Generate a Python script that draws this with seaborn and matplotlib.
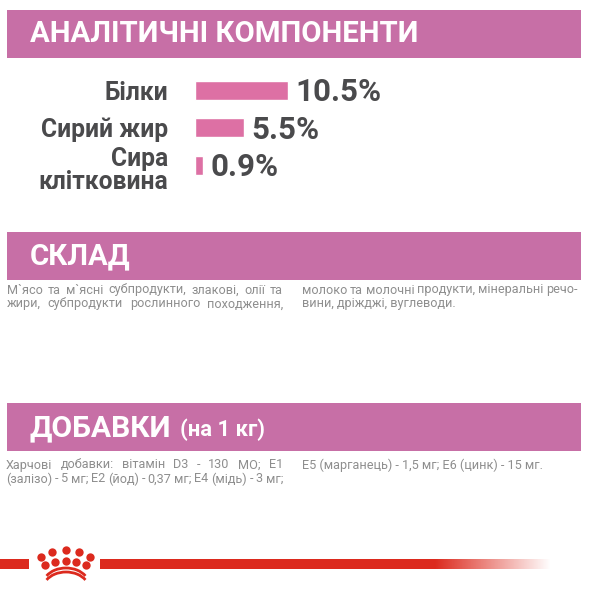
import numpy as np
import pandas as pd
import matplotlib.pyplot as plt
from matplotlib.patches import Arc
from matplotlib.transforms import ScaledTranslation
import seaborn as sns

# Values
labels = ["Білки", "Сирий жир", "Сира\nклітковина"]
values = [10.5, 5.5, 0.9]
value_labels = ["10.5%", "5.5%", "0.9%"]

title_top = "АНАЛІТИЧНІ КОМПОНЕНТИ"
title_mid = "СКЛАД"
title_low = "ДОБАВКИ"
title_low_unit = "(на 1 кг)"

mid_left = ["М`ясо та м`ясні субпродукти, злакові, олії та", "жири, субпродукти рослинного походження,"]
mid_right = ["молоко та молочні продукти, мінеральні речо-", "вини, дріжджі, вуглеводи."]
low_left = ["Харчові добавки: вітамін D3 - 130 МО; Е1", "(залізо) - 5 мг; Е2 (йод) - 0,37 мг; Е4 (мідь) - 3 мг;"]
low_right = ["Е5 (марганець) - 1,5 мг; Е6 (цинк) - 15 мг."]

W, H = 591, 593
BANNER = "#C76FA6"
BAR = "#DD70A4"
DARK = "#4A4A4C"
BODY = "#8E8E8E"
RED = "#DC2A1E"

sns.set_theme(style="white")
plt.rcParams['font.family'] = ['Roboto', 'DejaVu Sans']

fig = plt.figure(figsize=(W / 100, H / 100), dpi=100)

# Background layer in pixel coordinates for the banners and texts
bg = fig.add_axes([0, 0, 1, 1])
bg.set_xlim(0, W)
bg.set_ylim(H, 0)
bg.axis('off')

for top in [10, 232, 403]:
    bg.fill_between([7, 581], top, top + 48, color=BANNER, lw=0)

bg.text(30, 34, title_top, color="white", fontsize=21.2, fontweight='bold', va='center')
bg.text(30, 256, title_mid, color="white", fontsize=21.2, fontweight='bold', va='center')
bg.text(29, 428, title_low, color="white", fontsize=21.6, fontweight='bold', va='center')
bg.text(180, 430, title_low_unit, color="white", fontsize=15.8, fontweight='bold', va='center')


# Spread the words of a line so that it fills the column
def put_line(x, y, line, width=None):
    renderer = fig.canvas.get_renderer()
    if width is None:
        bg.text(x, y, line, color=BODY, fontsize=9.1, va='center')
        return
    words = line.split(" ")
    items = [bg.text(0, y, w, color=BODY, fontsize=9.1, va='center') for w in words]
    sizes = [i.get_window_extent(renderer).width for i in items]
    gap = (width - sum(sizes)) / (len(words) - 1)
    pos = x
    for item, size in zip(items, sizes):
        item.set_x(pos)
        pos += size + gap


put_line(7, 290, mid_left[0], 276)
put_line(7, 304, mid_left[1], 276)
put_line(302, 290, mid_right[0], 276)
put_line(302, 304, mid_right[1])
put_line(6, 465, low_left[0], 277)
put_line(6, 479, low_left[1], 277)
put_line(302, 465, low_right[0])

# Red footer line, fading out at the right
bg.fill_between([0, 29], 559, 569, color=RED, lw=0)
bg.fill_between([100, 435], 559, 569, color=RED, lw=0)
fade = np.zeros((1, 200, 4))
fade[..., :3] = plt.matplotlib.colors.to_rgb(RED)
fade[..., 3] = np.linspace(1, 0, 200)
bg.imshow(fade, extent=[435, 551, 569, 559], aspect='auto', zorder=3)
bg.set_xlim(0, W)
bg.set_ylim(H, 0)

# Crown logo
crown_x = [41, 52, 66, 79, 90, 45, 55, 66, 76, 86]
crown_y = [557, 552, 550, 552, 557, 565, 562, 561, 562, 565]
bg.scatter(crown_x, crown_y, s=36, color=RED, lw=0, zorder=4)
for dy in [0, 4]:
    bg.add_patch(Arc((66, 585 + dy), 46, 34, theta1=205, theta2=335, color=RED, lw=2, zorder=4))

# Bars on their own axes
df = pd.DataFrame({"label": labels, "value": values})
ax = fig.add_axes([195 / W, 1 - 184 / H, 195 / W, 112.5 / H])
ax.patch.set_alpha(0)
sns.barplot(data=df, x="value", y="label", color=BAR, saturation=1, width=0.507, ax=ax)
ax.set_xlim(0, 195 / (93 / 10.5))
ax.set_xlabel("")
ax.set_ylabel("")
ax.set_xticks([])
sns.despine(ax=ax, left=True, bottom=True)
ax.tick_params(axis='y', length=0, pad=19)
for lab in ax.get_yticklabels():
    lab.set_fontsize(17.7)
    lab.set_fontweight('bold')
    lab.set_color(DARK)
    lab.set_linespacing(0.95)
# The two-line label sits a little below its bar
third = ax.get_yticklabels()[2]
third.set_transform(third.get_transform() + ScaledTranslation(0, -2 / 72, fig.dpi_scale_trans))

annots = ax.bar_label(ax.containers[0], labels=value_labels, padding=5.5, fontsize=22.5,
                      fontweight='bold', color=DARK)
for a in annots:
    a.xyann = (a.xyann[0], -1.5)

fig.savefig("out.png", dpi=100)
